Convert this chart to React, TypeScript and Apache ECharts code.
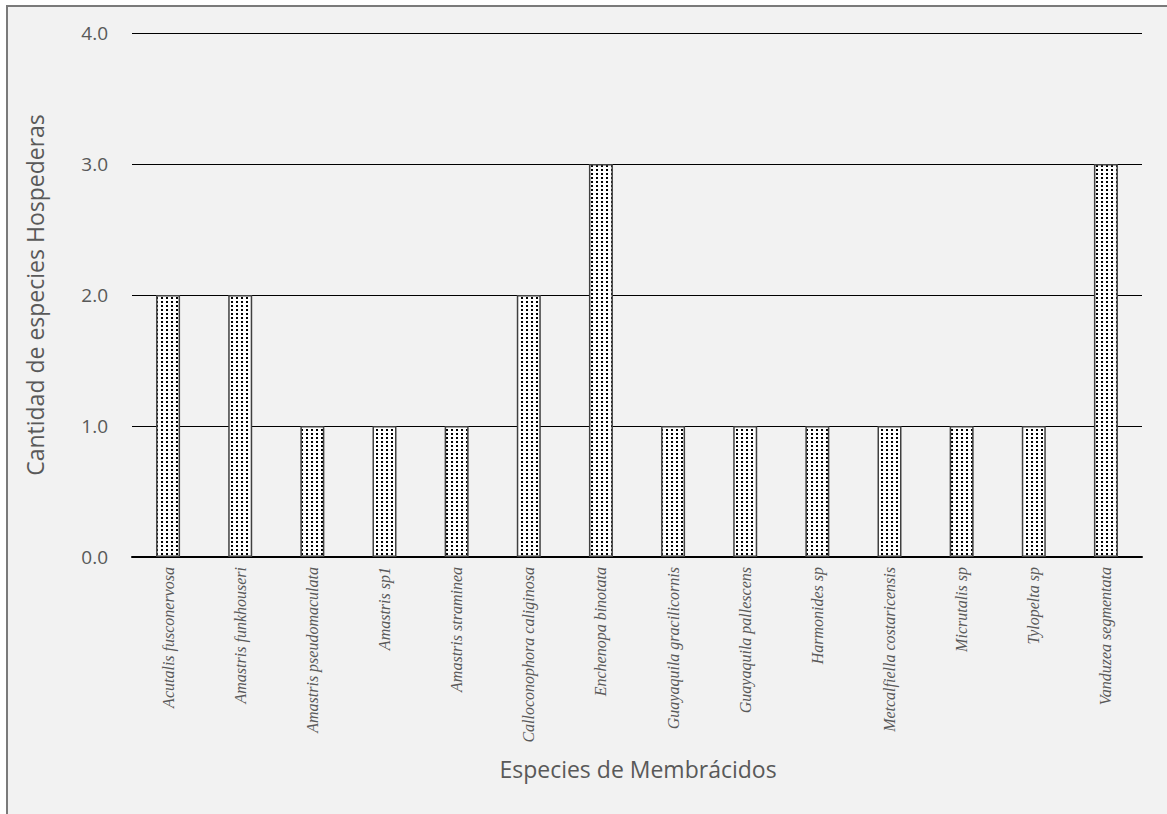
import React, { useEffect, useRef } from "react";
import * as echarts from "echarts";

const categories = [
  "Acutalis fusconervosa",
  "Amastris funkhouseri",
  "Amastris pseudomaculata",
  "Amastris sp1",
  "Amastris straminea",
  "Calloconophora caliginosa",
  "Enchenopa binotata",
  "Guayaquila gracilicornis",
  "Guayaquila pallescens",
  "Harmonides sp",
  "Metcalfiella costaricensis",
  "Micrutalis sp",
  "Tylopelta sp",
  "Vanduzea segmentata",
];
const hostCounts = [2, 2, 1, 1, 1, 2, 3, 1, 1, 1, 1, 1, 1, 3];
const yTicks = [0, 1, 2, 3, 4];
const yTitle = "Cantidad de especies Hospederas";
const xTitle = "Especies de Membrácidos";

function makeDots(): string {
  const c = document.createElement("canvas");
  c.width = 5;
  c.height = 4;
  const ctx = c.getContext("2d")!;
  ctx.fillStyle = "#ffffff";
  ctx.fillRect(0, 0, 5, 4);
  ctx.fillStyle = "#000000";
  ctx.fillRect(1, 1, 2, 2);
  return c.toDataURL();
}

export default function App() {
  const ref = useRef<HTMLDivElement>(null);
  useEffect(() => {
    if (!ref.current) return;
    const chart = echarts.init(ref.current, undefined, { renderer: "svg" });
    const dots = makeDots();
    chart.setOption({
      animation: false,
      backgroundColor: "transparent",
      grid: { left: 132, right: 25, top: 33, bottom: 257, containLabel: false },
      xAxis: {
        type: "category",
        data: categories,
        axisLine: { lineStyle: { color: "#000000", width: 2 } },
        axisTick: { show: false },
        axisLabel: {
          rotate: 90,
          interval: 0,
          margin: 10,
          color: "#595959",
          fontFamily: "Liberation Serif",
          fontStyle: "italic",
          fontSize: 16,
        },
      },
      yAxis: {
        type: "value",
        min: 0,
        max: 4,
        interval: 1,
        axisLine: { show: false },
        axisTick: { show: false },
        axisLabel: {
          margin: 24,
          color: "#595959",
          fontFamily: "Open Sans",
          fontSize: 19,
          formatter: (v: number) => (yTicks.includes(v) ? v.toFixed(1) : ""),
        },
        splitLine: { lineStyle: { color: "#000000", width: 1 } },
      },
      series: [
        {
          type: "bar",
          data: hostCounts,
          barWidth: 24,
          itemStyle: {
            color: { image: dots, repeat: "repeat" } as any,
            borderColor: "#404040",
            borderWidth: 1.5,
          },
        },
      ],
      graphic: [
        {
          type: "text",
          x: 35,
          y: 295,
          rotation: Math.PI / 2,
          style: {
            text: yTitle,
            fill: "#595959",
            fontFamily: "Open Sans",
            fontSize: 23,
            align: "center",
            verticalAlign: "middle",
          },
        },
        {
          type: "text",
          x: 638,
          y: 769,
          style: {
            text: xTitle,
            fill: "#595959",
            fontFamily: "Open Sans",
            fontSize: 23,
            align: "center",
            verticalAlign: "middle",
          },
        },
      ],
    });
    return () => chart.dispose();
  }, []);
  return (
    <>
      <div
        style={{
          position: "fixed",
          left: 6,
          top: 5,
          width: 1161,
          height: 809,
          boxSizing: "border-box",
          borderLeft: "2px solid #7a7a7a",
          borderTop: "2px solid #7a7a7a",
          background: "#f2f2f2",
        }}
      />
      <div
        ref={ref}
        style={{ position: "fixed", left: 0, top: 0, width: 1167, height: 814 }}
      />
    </>
  );
}
